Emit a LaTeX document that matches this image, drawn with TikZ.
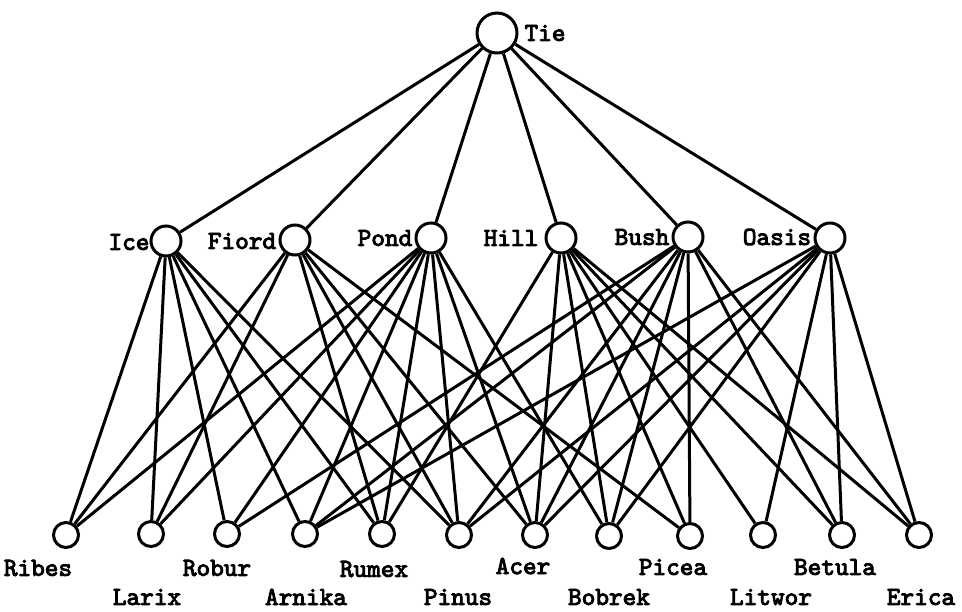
\documentclass[tikz,border=0pt]{standalone}
\usepackage{fontspec}
\newfontfamily\labfont{lmmono10-regular}[Extension=.otf,FakeBold=3.5]
\begin{document}
\begin{tikzpicture}[x=0.5pt,y=-0.5pt,
  nd/.style={circle,draw,line width=1.5pt,inner sep=0pt,minimum size=#1},
  lab/.style={font=\fontsize{13}{14}\labfont,inner sep=0pt},
  edge/.style={line width=1.5pt}]
\useasboundingbox (0,0) rectangle (962,611);
% top
\node[nd=20pt] (Tie) at (497,33) {};
% middle
\node[nd=15pt] (Ice) at (166,241) {};
\node[nd=15pt] (Fiord) at (295,240) {};
\node[nd=15pt] (Pond) at (431,238) {};
\node[nd=15pt] (Hill) at (561,238) {};
\node[nd=15pt] (Bush) at (688,237) {};
\node[nd=15pt] (Oasis) at (830,238) {};
% bottom
\node[nd=12.5pt] (Ribes) at (66,535) {};
\node[nd=12.5pt] (Larix) at (151,534) {};
\node[nd=12.5pt] (Robur) at (227,534) {};
\node[nd=12.5pt] (Arnika) at (305,534) {};
\node[nd=12.5pt] (Rumex) at (382,534) {};
\node[nd=12.5pt] (Pinus) at (459,535) {};
\node[nd=12.5pt] (Acer) at (535,535) {};
\node[nd=12.5pt] (Bobrek) at (609,536) {};
\node[nd=12.5pt] (Picea) at (690,536) {};
\node[nd=12.5pt] (Litwor) at (763,535) {};
\node[nd=12.5pt] (Betula) at (842,535) {};
\node[nd=12.5pt] (Erica) at (919,535) {};
% labels
\node[lab] (lTie) at (545,33) {Tie};
\node[lab] (lIce) at (129,242) {Ice};
\node[lab] (lFiord) at (242,241) {Fiord};
\node[lab] (lPond) at (385,238) {Pond};
\node[lab] (lHill) at (511,238) {Hill};
\node[lab] (lBush) at (642,237) {Bush};
\node[lab] (lOasis) at (777,237) {Oasis};
\node[lab] (lRibes) at (38,568) {Ribes};
\node[lab] (lRobur) at (217,568) {Robur};
\node[lab] (lRumex) at (374,569) {Rumex};
\node[lab] (lAcer) at (523,566) {Acer};
\node[lab] (lPicea) at (673,567) {Picea};
\node[lab] (lBetula) at (835,567) {Betula};
\node[lab] (lLarix) at (147,597) {Larix};
\node[lab] (lArnika) at (306,597) {Arnika};
\node[lab] (lPinus) at (458,597) {Pinus};
\node[lab] (lBobrek) at (609,597) {Bobrek};
\node[lab] (lLitwor) at (771,597) {Litwor};
\node[lab] (lErica) at (921,597) {Erica};
% edges top
\foreach \m in {Ice,Fiord,Pond,Hill,Bush,Oasis} \draw[edge] (Tie) -- (\m);
% edges middle-bottom
\foreach \m/\b in {
  Ice/Ribes, Ice/Larix, Ice/Robur, Ice/Arnika, Ice/Rumex, Ice/Pinus,
  Fiord/Ribes, Fiord/Larix, Fiord/Rumex, Fiord/Pinus, Fiord/Acer, Fiord/Picea,
  Pond/Ribes, Pond/Larix, Pond/Robur, Pond/Arnika, Pond/Rumex, Pond/Pinus, Pond/Acer, Pond/Bobrek,
  Hill/Rumex, Hill/Acer, Hill/Bobrek, Hill/Picea, Hill/Litwor, Hill/Betula, Hill/Erica,
  Bush/Robur, Bush/Arnika, Bush/Pinus, Bush/Acer, Bush/Bobrek, Bush/Picea, Bush/Betula, Bush/Erica,
  Oasis/Arnika, Oasis/Pinus, Oasis/Acer, Oasis/Bobrek, Oasis/Litwor, Oasis/Betula, Oasis/Erica}
  \draw[edge] (\m) -- (\b);
\end{tikzpicture}
\end{document}
